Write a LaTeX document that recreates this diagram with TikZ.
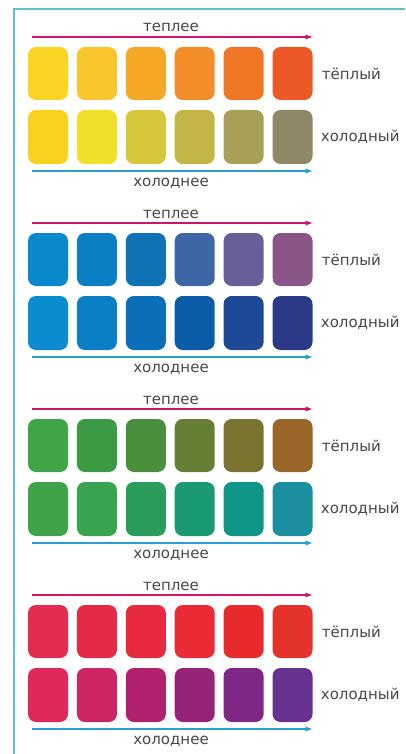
\documentclass[tikz,border=0pt]{standalone}
\usepackage{fontspec}
\setmainfont{DejaVu Sans}
\usepackage{xcolor}
\usepackage{tikz}
\usetikzlibrary{arrows.meta,positioning}

% swatch colours: g<group>w<col> = warm row, g<group>c<col> = cold row
\definecolor{g1w1}{HTML}{F9D423}
\definecolor{g1w2}{HTML}{F8C62A}
\definecolor{g1w3}{HTML}{F5A826}
\definecolor{g1w4}{HTML}{F28D28}
\definecolor{g1w5}{HTML}{EF7624}
\definecolor{g1w6}{HTML}{EB5A26}
\definecolor{g1c1}{HTML}{F7D21F}
\definecolor{g1c2}{HTML}{F0E02A}
\definecolor{g1c3}{HTML}{D6C63A}
\definecolor{g1c4}{HTML}{C3B647}
\definecolor{g1c5}{HTML}{A9A058}
\definecolor{g1c6}{HTML}{8E8866}
\definecolor{g2w1}{HTML}{0A88CC}
\definecolor{g2w2}{HTML}{0B7FC4}
\definecolor{g2w3}{HTML}{0E72B5}
\definecolor{g2w4}{HTML}{3C66A6}
\definecolor{g2w5}{HTML}{685F98}
\definecolor{g2w6}{HTML}{8A5686}
\definecolor{g2c1}{HTML}{0B8BD0}
\definecolor{g2c2}{HTML}{0A7FC6}
\definecolor{g2c3}{HTML}{0A6FB8}
\definecolor{g2c4}{HTML}{0A5BA8}
\definecolor{g2c5}{HTML}{1E4997}
\definecolor{g2c6}{HTML}{2B3A86}
\definecolor{g3w1}{HTML}{40A547}
\definecolor{g3w2}{HTML}{3C9A45}
\definecolor{g3w3}{HTML}{4A8F3E}
\definecolor{g3w4}{HTML}{657F35}
\definecolor{g3w5}{HTML}{7A7430}
\definecolor{g3w6}{HTML}{996528}
\definecolor{g3c1}{HTML}{3FA34A}
\definecolor{g3c2}{HTML}{3AA350}
\definecolor{g3c3}{HTML}{2A9C5C}
\definecolor{g3c4}{HTML}{199A73}
\definecolor{g3c5}{HTML}{0F9686}
\definecolor{g3c6}{HTML}{1B8FA0}
\definecolor{g4w1}{HTML}{E52B50}
\definecolor{g4w2}{HTML}{E52A48}
\definecolor{g4w3}{HTML}{E82A40}
\definecolor{g4w4}{HTML}{EA2A35}
\definecolor{g4w5}{HTML}{E72A2C}
\definecolor{g4w6}{HTML}{E5322A}
\definecolor{g4c1}{HTML}{E0285A}
\definecolor{g4c2}{HTML}{CC2664}
\definecolor{g4c3}{HTML}{B0226E}
\definecolor{g4c4}{HTML}{952378}
\definecolor{g4c5}{HTML}{7E2784}
\definecolor{g4c6}{HTML}{66318F}
\definecolor{framecol}{HTML}{5EC2C9}
\definecolor{warmline}{HTML}{D0146E}
\definecolor{coldline}{HTML}{2A9FD6}
\definecolor{txtgray}{HTML}{474747}

\begin{document}
\begin{tikzpicture}[
  x=1pt, y=-1pt,
  swatch/.style={
    rounded corners=8pt,
    minimum width=40pt,
    minimum height=53pt,
    inner sep=0pt
  },
  lbl/.style={
    text=txtgray,
    font=\fontsize{15}{17}\selectfont,
    inner sep=0pt
  },
  warmarrow/.style={-{Latex[length=2.6mm,width=1.9mm]}, line width=1.4pt, warmline},
  coldarrow/.style={-{Latex[length=2.6mm,width=1.9mm]}, line width=1.4pt, coldline}
]
  \useasboundingbox (0,0) rectangle (405,754);

  % frame on the left and top
  \coordinate (frameB) at (14,754);
  \coordinate (frameC) at (14,9);
  \coordinate (frameR) at (405,9);
  \draw[framecol, line width=1.4pt] (frameB) -- (frameC) -- (frameR);

  \foreach \g/\top in {1/47, 2/233, 3/419, 4/605} {
    % the two rows of swatches
    \foreach \c in {1,...,6} {
      \node[swatch, fill=g\g w\c] (warm-\g-\c) at ({48+48.9*(\c-1)}, \top+26.5) {};
      \node[swatch, fill=g\g c\c, minimum height=54pt] (cold-\g-\c) at ({48+48.9*(\c-1)}, \top+90) {};
    }

    % arrows
    \coordinate (warmL-\g) at (32, \top-10);
    \coordinate (warmR-\g) at (313, \top-10);
    \coordinate (coldL-\g) at (32, \top+124);
    \coordinate (coldR-\g) at (313, \top+124);
    \draw[warmarrow] (warmL-\g) -- (warmR-\g);
    \draw[coldarrow] (coldL-\g) -- (coldR-\g);

    % texts
    \node[lbl, anchor=base] (warmer-\g) at (171, \top-15) {теплее};
    \node[lbl, anchor=base] (colder-\g) at (171, \top+139) {холоднее};
    \node[lbl, right=9pt of warm-\g-6] (warmname-\g) {тёплый};
    \node[lbl, right=8pt of cold-\g-6] (coldname-\g) {холодный};
  }
\end{tikzpicture}
\end{document}
